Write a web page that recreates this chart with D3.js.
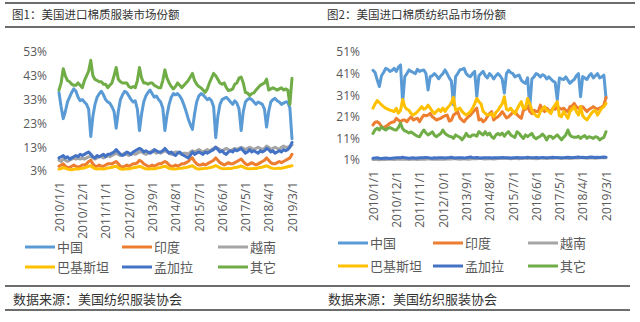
<!DOCTYPE html>
<html><head><meta charset="utf-8">
<script src="https://cdn.jsdelivr.net/npm/d3@7/dist/d3.min.js"></script>
<style>
html,body{margin:0;padding:0;background:#fff;}
svg{display:block;}
</style></head>
<body>
<svg id="c" width="640" height="322"></svg>
<script>
// ---------- DATA ----------
const seriesNames = ["中国","印度","越南","巴基斯坦","孟加拉","其它"];
const seriesColors = ["#5B9BD5","#ED7D31","#A5A5A5","#FFC000","#4472C4","#70AD47"];
const tickLabels = ["2010/1/1","2010/12/1","2011/11/1","2012/10/1","2013/9/1","2014/8/1","2015/7/1","2016/6/1","2017/5/1","2018/4/1","2019/3/1"];
const yTicksApparel = [3,13,23,33,43,53];
const yTicksTextile = [1,11,21,31,41,51];

// Figure 1: apparel (monthly 2010/1 - 2019/3)
const apparelChina = [
36,30,25,28,32,34,36,37.5,36.5,34,32.5,33,
32,31,29,17.5,26,31,34,35.5,36.5,35,33,32,
31.5,30,28,21,28,33,35,36.5,36,34.5,33,32,
32.5,29,20,27,32,34.5,36,37,35.5,34,34.5,33,
32,29.5,20,26.5,31,34,35.5,35,35.5,34.5,33,30.7,
28,25,22.5,20.5,27,32,34.5,35.5,35,34,33,33.5,
32.5,30,17,26,31,33,33.5,34,33,32,31,32.5,
31.5,29,20,28,32,33,33.5,33,32,31,32,31.5,
31,29,21.5,28,32,33,33.5,32.5,32,31,31.5,32,
32,29.5,16.5];
const apparelIndia = [
5,5.5,6,5,4.5,4.5,5,5.5,5,4.5,5,5.5,
5.5,6,7,7.5,6,5,5,5.5,5,5,5.5,6,
6,6,6.5,7,6,5,4.5,5,5.5,5,5.5,6,
6,6.5,7.5,7,6,5.5,5,5,5.5,5,5.5,6,
6,6.5,7,6.5,5.5,5,5,5.5,5,5.5,6,6,
6.5,7,8,8.5,7,6,5.5,5.5,6,5.5,6,6.5,
7,7.5,8.5,7.5,6.5,6,5.5,6,6.5,6,6,6.5,
7,7.5,8,7,6,5.5,6,6.5,6,5.5,6,6.5,
7,7.5,8.5,7.5,6.5,6,6,6.5,7,6.5,7,7.5,
8,8.5,10];
const apparelVietnam = [
7.5,7,8,7.5,7,7.5,8,8.5,8,8.5,8,8.5,
8,8.5,9,9,8.5,8,8.5,9,9,8.5,9,9.5,
9,9.5,10,10.5,10,9.5,10,10.5,10,9.5,10,10.5,
10,10.5,11,11,10.5,10,10.5,11,11.5,11,10.5,11,
10.5,11,11.5,11,10.5,10,10.5,11,11,10.5,10,10.5,
10.5,10,11,11.5,11,11.5,12,11.5,11,11.5,12,11.5,
12,12.5,13,12.5,12,11.5,12,12.5,12,11.5,12,12.5,
12,12.5,13,12.5,12,12.5,13,12.5,12,12.5,13,12.5,
12,12.5,13.5,13,12,12.5,13,12.5,12,13,13.5,13,
13,13.5,14];
const apparelPakistan = [
3.8,4,4.5,4.2,3.8,3.6,3.5,3.7,3.9,3.8,4,4.2,
4.3,4.6,5,5.2,4.5,4,3.8,3.9,4,3.8,4,4.3,
4.4,4.6,4.8,5,4.4,3.9,3.7,3.8,4,3.9,4.1,4.3,
4.5,4.7,5,4.6,4.2,3.9,3.8,3.9,4,3.9,4.1,4.4,
4.5,4.8,5,4.6,4.1,3.9,3.8,3.8,4,4.1,4.2,4.4,
4.5,4.7,5,5.2,4.5,4,3.8,3.9,4,4.1,4.2,4.4,
4.6,4.8,5.3,4.8,4.3,4,3.9,4,4.1,4,4.2,4.5,
4.6,4.8,5.1,4.7,4.2,4,3.9,4,4.1,4,4.3,4.5,
4.6,4.9,5.2,4.8,4.3,4.1,4,4.1,4.2,4.1,4.4,4.6,
4.8,5,5.2];
const apparelBangladesh = [
8.5,9,9.5,8.5,9,8,8.5,9,9.5,9,10,9.5,
10,10.5,11,10,9,8.5,9.5,9,9.5,10,9,10,
10,10.5,11,12,11,10,9.5,10,11,10.5,10,11,
11.5,12,12.5,12,11,11.5,11,10.5,11,12,11.5,11,
11,11.5,12.5,11.5,10.5,11,10,9.5,10.5,11,10,9.5,
9,8.5,9.5,11,10,10.5,11,10.5,10,11,10.5,11,
11.5,12,13,12,11,11.5,10.5,10,11,11.5,11,12,
11.5,12,12.5,11.5,10.5,11,12,11,11.5,11,10.5,11.5,
11,11.5,12.5,12,11,11.5,10.5,11,11.5,11,12,11.5,
12,13,15];
const apparelOthers = [
37,40,46,43,41,40.5,39.5,39,39,40,39,38,
41,43,45,49.5,43,41.5,41,40.5,40.5,39.5,39.5,38,
39,40,43,46.5,41.5,40.5,40,40,40,38.5,38,38.5,
38,41,46.5,42,40,40,39.5,40,40,39,38.5,38,
38,41,45.5,42,40,38.5,37.5,38.5,40,39,38,39,
40,41,42.5,44,41,39.5,38.5,38,37,36,37.5,40,
42,44,43,41.5,40,39.5,40,38,36.8,37,37.5,39.5,
40,42,42.5,40,36,35.8,34.7,35.5,35.8,37,38,39,
39.5,40,41.6,37,37.5,38,37.5,37,37.5,38,37,37.5,
37,31,42];

// Figure 2: textiles
const textileChina = [
42.5,41.5,38,35,40,41.5,43.4,43,42,42.5,43.4,42,
44,45,27.5,39.6,41,42.7,42,41.5,41,43,42,42.5,
42.7,41,33.4,39.6,40,41,40,38.6,40,41,42.7,41,
39,37.5,26.5,39.6,41,42.7,43,43.4,41,40,39.6,41,
42,30.3,40,41.1,42,40,39,41,40,38.5,40,41,
40,38.5,32,41,42.5,41.5,41,39.5,40,40.3,38,37,
36.5,39,25,38.5,39.5,41,40.5,39.5,40.5,40,38.5,39.5,
38.5,37.5,37,28.8,39,38.5,38.3,39.5,38,36.5,37.5,38.3,
40,41,30.3,39.6,39,38.3,40,41,39,40,41,39,
39.5,40.3,29.6];
const textileIndia = [
17.2,18.5,18.7,18,16.5,15.7,16.5,17.2,18,18.5,18.7,20.3,
19.5,18.7,19.5,19.5,18.7,20,21,19.5,20,20.3,18.7,20.5,
21.8,21.5,21.8,22.6,21,20.3,19.5,20,20.3,21,21.5,21.8,
19,19.5,21.8,22.5,23.4,20.5,19.5,18.7,20,21,21.8,23,
24,25,19.5,20,18.7,19.5,21,22.5,23.4,19.5,20.5,21,
22,23.4,22,20.5,21,22,23,23.4,22,21,20.3,24,
24.5,25.7,23.5,22.5,24,23.5,23.4,26.4,24.5,23.4,25,24,
23.4,25,24.5,25.7,25,24.5,25,24,23.4,25.7,26,27.2,
25.5,25,25.7,25.7,24.5,23.4,24.5,25,25.7,25,24.5,25,
25.5,26.4,30];
const textileVietnam = [
1.2,1.3,1.2,1.1,1.2,1.3,1.2,1.3,1.4,1.3,1.2,1.3,
1.4,1.3,1.5,1.4,1.3,1.2,1.3,1.4,1.3,1.2,1.3,1.4,
1.5,1.4,1.6,1.5,1.4,1.3,1.4,1.5,1.4,1.3,1.4,1.5,
1.6,1.5,1.7,1.6,1.5,1.4,1.5,1.6,1.5,1.4,1.5,1.6,
1.7,1.6,1.8,1.7,1.6,1.5,1.6,1.7,1.6,1.5,1.6,1.7,
1.8,1.7,1.9,1.8,1.7,1.6,1.7,1.8,1.7,1.6,1.7,1.8,
1.8,1.7,1.9,1.8,1.7,1.6,1.7,1.8,1.9,1.8,1.7,1.8,
1.9,1.8,2,1.9,1.8,1.7,1.8,1.9,1.8,1.7,1.8,1.9,
2,1.9,2.1,2,1.9,1.8,1.9,2,1.9,1.8,1.9,2,
2,2.1,2];
const textilePakistan = [
25,27,28.5,27.5,26.5,25.7,25,24.5,24.1,23.8,23.4,24.9,
22.7,24,29,25.7,24.5,24,22.5,21.8,22.5,23.4,24.5,25.7,
24.5,25,26.4,25,23.5,22.5,23.5,24.5,23.5,25,23.5,25,
26,27.4,30,24,24.5,25,23.5,22.5,21.8,22.5,23.4,25,
27,29.5,28,27,23.5,22.5,21.8,22,22.5,21,23,24,
25.7,27,30.3,24.5,24,25,23.5,22.5,24.5,26.4,28,25,
25,29.5,27,24,22.5,21.5,21,23.4,24.5,25.7,24,23.5,
22.5,25,26.5,28,21.5,21,23.4,22,20.3,23.4,24.5,25.7,
23.5,21.8,25.7,21.5,20.3,19.6,21,22.5,23.5,24,21.8,23.5,
25,25.7,27.2];
const textileBangladesh = [
1.8,1.9,2,1.8,1.7,1.8,1.9,1.8,1.7,1.8,1.9,2,
2.1,2,2.3,2,1.9,1.8,1.9,2,1.8,1.9,2,2.1,
2,2.2,2.1,1.9,1.8,2,1.9,2,2.1,2,1.9,2,
2.1,2.3,2,1.9,2,2.1,2,1.9,2,2.2,2.4,2.1,
2,2.2,2,1.9,2,2.1,2,2.1,1.9,2,2.1,2,
2.1,2.2,2,2.1,2,1.9,2,2.1,2.2,2,2.1,2,
2.1,2.3,2.1,2,2.1,2.2,2,2.1,2.2,2.1,2,2.1,
2.2,2.3,2.1,2.2,2.1,2,2.1,2.2,2.3,2.2,2.1,2.2,
2.3,2.4,2.2,2.3,2.2,2.1,2.3,2.4,2.3,2.2,2.3,2.2,
2.3,2.4,2.3];
const textileOthers = [
13.3,15,15.7,14.9,16.4,15.5,14.9,15.7,16,15.5,15,14.9,
16,18,15.5,14.5,14.1,13.5,14,13.3,12.6,12,11.8,13.5,
14.9,13.5,12.6,13.3,14,12.5,11.8,12.6,13.3,14.9,13.3,12.6,
12,11.8,11,12.6,12,11.5,10.3,11.5,13.3,12,11.8,12.6,
12.6,12,14.1,13.3,12.6,14.1,12.6,13.5,11.8,11,12.6,13.3,
12.6,13.5,12,13.3,14.1,12.6,12,11.5,14.1,13.3,12,11,
12.6,11.8,12.6,13.3,11.5,10.8,11.5,12,13,12,10.3,12,
12,11,11.8,12.6,11.5,10.3,11.5,12.6,14.9,12.5,11.8,11.5,
11.5,12,11,11.8,12.3,11,11.8,11.5,11,11.8,11.5,10.3,
11,11.5,14.1];

// month categories 2010/1/1 .. 2019/3/1
const months = [];
for (let y = 2010; y <= 2019; y++) for (let m = 1; m <= 12; m++) { if (y === 2019 && m > 3) break; months.push(y + "/" + m + "/1"); }

// ---------- DRAW ----------
const svg = d3.select("#c");
const CJK = "'Noto Sans CJK SC','Noto Sans',sans-serif";
const NUM = "'Open Sans','Noto Sans',sans-serif";
const ruleColor = "#3c3c3c";

function hline(x1, x2, y) {
  svg.append("line").attr("x1", x1).attr("x2", x2).attr("y1", y).attr("y2", y)
    .attr("stroke", ruleColor).attr("stroke-width", 1.4);
}
hline(5, 635, 3); hline(5, 635, 27);
hline(5, 630, 286); hline(5, 630, 310);

const charts = [
  {title: "图1：美国进口棉质服装市场份额", tx: 12, data: [apparelChina, apparelIndia, apparelVietnam, apparelPakistan, apparelBangladesh, apparelOthers],
   xr: [59, 292], yr: [171, 52], dom: [3, 53], yt: yTicksApparel, labX: 47, xLabTop: 182,
   legCols: [25, 122, 218], legRows: [247, 267]},
  {title: "图2：美国进口棉质纺织品市场份额", tx: 327, data: [textileChina, textileIndia, textileVietnam, textilePakistan, textileBangladesh, textileOthers],
   xr: [373, 606], yr: [160, 52], dom: [1, 51], yt: yTicksTextile, labX: 360, xLabTop: 171,
   legCols: [338, 433, 528], legRows: [243, 266]}
];

charts.forEach(c => {
  svg.append("text").attr("x", c.tx).attr("y", 19).attr("font-family", CJK).attr("font-size", 11.5)
    .attr("fill", "#333").text(c.title);
  svg.append("text").attr("x", c.tx + 1).attr("y", 304).attr("font-family", CJK).attr("font-size", 13)
    .attr("fill", "#333").text("数据来源：美国纺织服装协会");

  const x = d3.scalePoint().domain(months).range(c.xr);
  const y = d3.scaleLinear().domain(c.dom).range(c.yr);

  const ya = svg.append("g").attr("transform", `translate(${c.labX},0)`)
    .call(d3.axisLeft(y).tickValues(c.yt).tickSize(0).tickPadding(0).tickFormat(d => d + "%"));
  ya.select(".domain").remove();
  ya.selectAll("text").attr("font-family", NUM).attr("font-size", 12).attr("fill", "#595959");

  const xa = svg.append("g").attr("transform", `translate(0,${c.xLabTop})`)
    .call(d3.axisBottom(x).tickValues(tickLabels).tickSize(0));
  xa.select(".domain").remove();
  xa.selectAll("text").attr("font-family", NUM).attr("font-size", 12).attr("fill", "#595959")
    .attr("y", 0).attr("x", 0).attr("dy", "0.35em").attr("transform", "rotate(-90)").style("text-anchor", "end");

  const line = d3.line().x((d, i) => x(months[i])).y(d => y(d));
  c.data.forEach((s, k) => {
    svg.append("path").datum(s).attr("d", line).attr("fill", "none")
      .attr("stroke", seriesColors[k]).attr("stroke-width", 3)
      .attr("stroke-linejoin", "round").attr("stroke-linecap", "round");
  });

  seriesNames.forEach((n, k) => {
    const cx = c.legCols[k % 3], cy = c.legRows[Math.floor(k / 3)];
    svg.append("line").attr("x1", cx).attr("x2", cx + 30).attr("y1", cy).attr("y2", cy)
      .attr("stroke", seriesColors[k]).attr("stroke-width", 3);
    svg.append("text").attr("x", cx + 32).attr("y", cy).attr("dy", "0.36em")
      .attr("font-family", CJK).attr("font-size", 13).attr("fill", "#595959").text(n);
  });
});
</script>
</body></html>
